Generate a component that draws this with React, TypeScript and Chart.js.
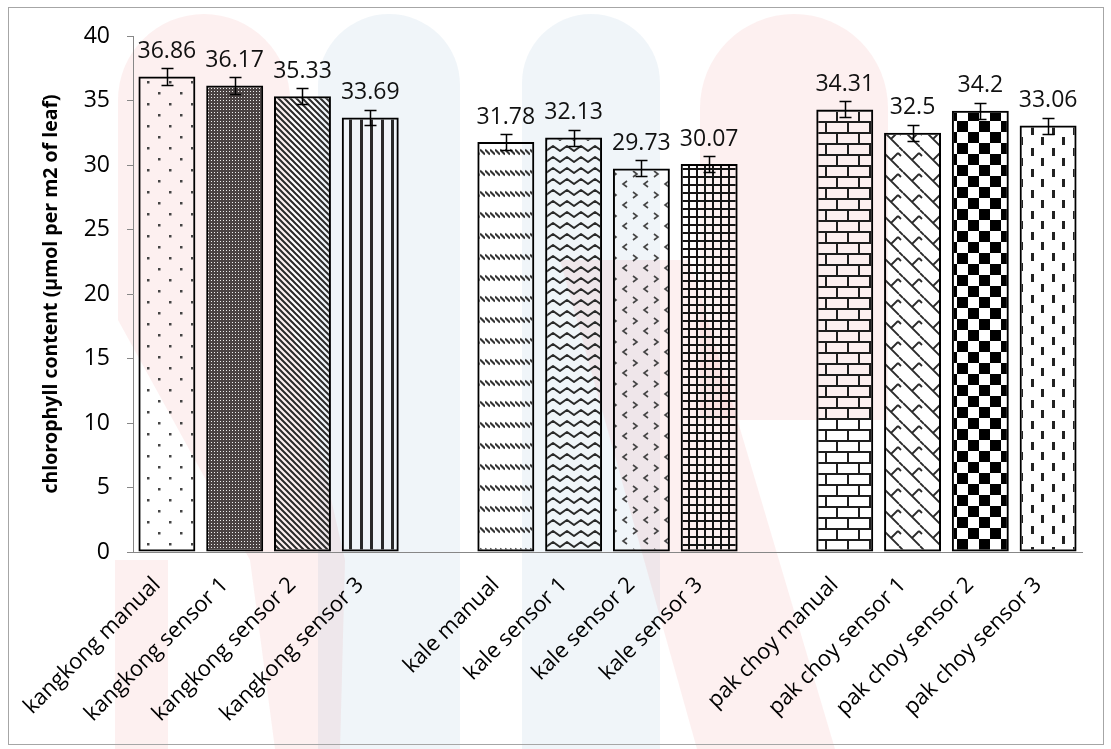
import React, { useEffect, useRef } from 'react';
import { Chart, registerables } from 'chart.js';

Chart.register(...registerables);

// ---- data ----
const categories = [
  'kangkong manual', 'kangkong sensor 1', 'kangkong sensor 2', 'kangkong sensor 3', '',
  'kale manual', 'kale sensor 1', 'kale sensor 2', 'kale sensor 3', '',
  'pak choy manual', 'pak choy sensor 1', 'pak choy sensor 2', 'pak choy sensor 3',
];
const chlorophyll: (number | null)[] = [
  36.86, 36.17, 35.33, 33.69, null,
  31.78, 32.13, 29.73, 30.07, null,
  34.31, 32.5, 34.2, 33.06,
];
const errorMargins: (number | null)[] = [
  0.66, 0.66, 0.62, 0.6, null,
  0.62, 0.62, 0.62, 0.62, null,
  0.62, 0.62, 0.62, 0.62,
];
const yAxisTitle = 'chlorophyll content (µmol per m2 of leaf)';
const yMin = 0;
const yMax = 40;
const yStep = 5;

// ---- styles ----
const patternNames = [
  'dots', 'dither', 'diag', 'vert', 'none',
  'dashDiag', 'wave', 'divot', 'grid', 'none',
  'brick', 'shingle', 'check', 'dashVert',
];
const FONT = "'Open Sans', 'DejaVu Sans', sans-serif";

function makePattern(w: number, h: number, draw: (c: CanvasRenderingContext2D) => void): CanvasPattern | string {
  const cv = document.createElement('canvas');
  cv.width = w;
  cv.height = h;
  const c = cv.getContext('2d');
  if (!c) return '#fff';
  draw(c);
  return c.createPattern(cv, 'repeat') || '#fff';
}

function buildPattern(name: string): CanvasPattern | string {
  switch (name) {
    case 'dots':
      return makePattern(22, 22, (c) => {
        c.fillStyle = '#444';
        c.fillRect(4, 4, 2.5, 2.5);
        c.fillRect(15, 15, 2.5, 2.5);
      });
    case 'dither':
      return makePattern(3, 3, (c) => {
        c.fillStyle = '#4a4242';
        c.fillRect(0, 0, 3, 3);
        c.fillStyle = '#eeeeee';
        c.fillRect(1, 1, 1, 1);
      });
    case 'diag':
      return makePattern(6, 6, (c) => {
        c.strokeStyle = '#2a2a2a';
        c.lineWidth = 2;
        c.beginPath();
        c.moveTo(-1, -1); c.lineTo(7, 7);
        c.moveTo(-1, 5); c.lineTo(1, 7);
        c.moveTo(5, -1); c.lineTo(7, 1);
        c.stroke();
      });
    case 'vert':
      return makePattern(21, 4, (c) => {
        c.fillStyle = '#2a2a2a';
        c.fillRect(3, 0, 3, 4);
        c.fillRect(13, 0, 3, 4);
      });
    case 'dashDiag':
      return makePattern(5, 21, (c) => {
        c.strokeStyle = '#333';
        c.lineWidth = 2;
        c.beginPath();
        c.moveTo(0, 2.5); c.lineTo(5, 7.5);
        c.stroke();
      });
    case 'wave':
      return makePattern(14, 11, (c) => {
        c.strokeStyle = '#2a2a2a';
        c.lineWidth = 2;
        c.lineJoin = 'round';
        c.beginPath();
        c.moveTo(-7, 3); c.lineTo(0, 8); c.lineTo(7, 3); c.lineTo(14, 8); c.lineTo(21, 3);
        c.stroke();
      });
    case 'divot':
      return makePattern(21, 21, (c) => {
        c.strokeStyle = '#444';
        c.lineWidth = 1.6;
        c.beginPath();
        c.moveTo(3, 3); c.lineTo(7, 6); c.lineTo(3, 9);
        c.moveTo(18, 13); c.lineTo(14, 16); c.lineTo(18, 19);
        c.stroke();
      });
    case 'grid':
      return makePattern(8, 8, (c) => {
        c.fillStyle = '#151515';
        c.fillRect(0, 0, 8, 2);
        c.fillRect(0, 0, 2, 8);
      });
    case 'brick':
      return makePattern(22, 22, (c) => {
        c.fillStyle = '#1e1e1e';
        c.fillRect(0, 0, 22, 2);
        c.fillRect(0, 11, 22, 2);
        c.fillRect(0, 0, 2, 11);
        c.fillRect(11, 11, 2, 11);
      });
    case 'shingle':
      return makePattern(21, 21, (c) => {
        c.strokeStyle = '#2a2a2a';
        c.lineWidth = 1.8;
        c.beginPath();
        c.moveTo(0, 4); c.lineTo(17, 21);
        c.moveTo(17, 0); c.lineTo(21, 4);
        c.moveTo(9, 13); c.lineTo(16, 6);
        c.moveTo(16, 6); c.lineTo(19, 9);
        c.stroke();
      });
    case 'check':
      return makePattern(22, 22, (c) => {
        c.fillStyle = '#000';
        c.fillRect(0, 0, 11, 11);
        c.fillRect(11, 11, 11, 11);
      });
    case 'dashVert':
      return makePattern(21, 21, (c) => {
        c.fillStyle = '#222';
        c.fillRect(2, 1, 3, 8);
        c.fillRect(12, 11, 3, 8);
      });
    default:
      return 'rgba(0,0,0,0)';
  }
}

function drawWatermark(ctx: CanvasRenderingContext2D) {
  const pink = 'rgba(235,70,70,0.08)';
  const blue = 'rgba(60,120,180,0.075)';
  const column = (x0: number, x1: number, y0: number, y1: number, color: string) => {
    const r = (x1 - x0) / 2;
    ctx.fillStyle = color;
    ctx.beginPath();
    ctx.moveTo(x0, y1);
    ctx.lineTo(x0, y0 + r);
    ctx.arc(x0 + r, y0 + r, r, Math.PI, 0);
    ctx.lineTo(x1, y1);
    ctx.closePath();
    ctx.fill();
  };
  const poly = (pts: number[][], color: string) => {
    ctx.fillStyle = color;
    ctx.beginPath();
    pts.forEach((p, i) => (i === 0 ? ctx.moveTo(p[0], p[1]) : ctx.lineTo(p[0], p[1])));
    ctx.closePath();
    ctx.fill();
  };
  ctx.save();
  column(118, 290, 14, 320, pink);
  poly([[118, 320], [290, 320], [345, 560], [340, 749], [275, 749], [250, 560]], pink);
  poly([[115, 560], [168, 560], [168, 749], [115, 749]], pink);
  column(318, 460, 14, 749, blue);
  column(522, 660, 14, 749, blue);
  column(700, 888, 14, 420, pink);
  poly([[560, 260], [690, 260], [835, 749], [697, 749]], pink);
  ctx.restore();
}

export default function App() {
  const canvasRef = useRef<HTMLCanvasElement | null>(null);

  useEffect(() => {
    const canvas = canvasRef.current;
    if (!canvas) return;
    const patterns = patternNames.map(buildPattern);

    const decorPlugin = {
      id: 'decor',
      beforeDraw(chart: any) {
        const ctx = chart.ctx as CanvasRenderingContext2D;
        ctx.save();
        ctx.fillStyle = '#fff';
        ctx.fillRect(0, 0, chart.width, chart.height);
        drawWatermark(ctx);
        ctx.strokeStyle = '#a6a6a6';
        ctx.lineWidth = 1;
        ctx.strokeRect(8.5, 7.5, 1095, 737);
        ctx.restore();
      },
      afterDatasetsDraw(chart: any) {
        const ctx = chart.ctx as CanvasRenderingContext2D;
        const yScale = chart.scales.y;
        const meta = chart.getDatasetMeta(0);
        ctx.save();
        meta.data.forEach((bar: any, i: number) => {
          const v = chlorophyll[i];
          const e = errorMargins[i];
          if (v == null) return;
          const x = bar.x;
          if (e != null) {
            const yT = Math.round(yScale.getPixelForValue(v + e)) + 0.5;
            const yB = Math.round(yScale.getPixelForValue(v - e)) + 0.5;
            const xc = Math.round(x) + 0.5;
            ctx.strokeStyle = '#000';
            ctx.lineWidth = 1.5;
            ctx.beginPath();
            ctx.moveTo(xc, yT); ctx.lineTo(xc, yB);
            ctx.moveTo(xc - 6, yT); ctx.lineTo(xc + 6, yT);
            ctx.moveTo(xc - 6, yB); ctx.lineTo(xc + 6, yB);
            ctx.stroke();
          }
          ctx.fillStyle = '#111';
          ctx.font = `23px ${FONT}`;
          ctx.textAlign = 'center';
          ctx.textBaseline = 'middle';
          ctx.fillText(String(v), x, bar.y - 25);
        });
        ctx.restore();
      },
    };

    const chart = new Chart(canvas, {
      type: 'bar',
      data: {
        labels: categories,
        datasets: [
          {
            data: chlorophyll,
            backgroundColor: patterns as any,
            borderColor: '#000',
            borderWidth: 2,
            borderSkipped: false,
            barPercentage: 0.84,
            categoryPercentage: 1,
          },
        ],
      },
      options: {
        animation: false,
        responsive: false,
        devicePixelRatio: 1,
        layout: { padding: { top: 36, right: 29, left: 0, bottom: 0 } },
        plugins: { legend: { display: false }, tooltip: { enabled: false } },
        scales: {
          x: {
            grid: { display: false },
            border: { display: true, color: '#878787', width: 1 },
            ticks: {
              autoSkip: false,
              maxRotation: 45,
              minRotation: 45,
              padding: 12,
              labelOffset: -10,
              color: '#000',
              font: { family: FONT, size: 22 },
            },
            afterFit: (s: any) => {
              s.height = 197;
            },
          },
          y: {
            min: yMin,
            max: yMax,
            ticks: { stepSize: yStep, padding: 17, color: '#000', font: { family: FONT, size: 23 } },
            grid: { drawOnChartArea: false, drawTicks: true, tickLength: 6, color: '#878787' },
            border: { display: true, color: '#878787', width: 1 },
            title: {
              display: true,
              text: yAxisTitle,
              color: '#000',
              font: { family: FONT, size: 19.5, weight: 'bold' },
              padding: { top: 40, bottom: 0 },
            },
            afterFit: (s: any) => {
              s.width = 133;
            },
          },
        },
      },
      plugins: [decorPlugin],
    } as any);

    return () => chart.destroy();
  }, []);

  return (
    <div style={{ position: 'absolute', left: 0, top: 0, width: 1111, height: 749 }}>
      <canvas ref={canvasRef} width={1111} height={749} style={{ display: 'block', width: 1111, height: 749 }} />
    </div>
  );
}
